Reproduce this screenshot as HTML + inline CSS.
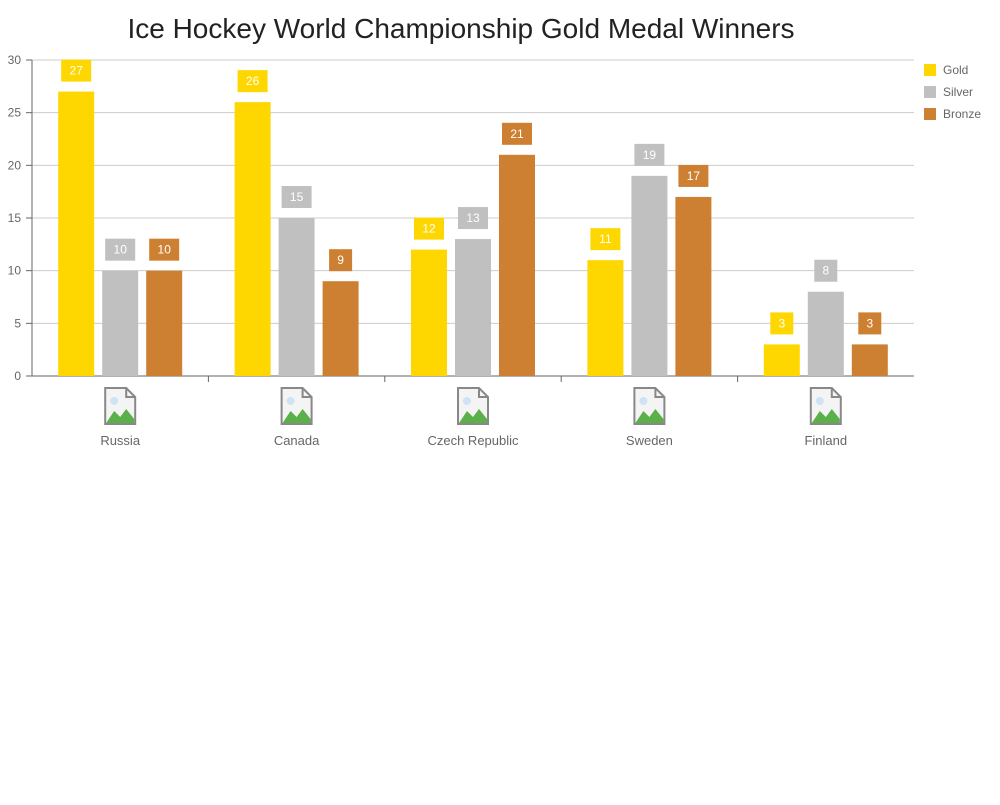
<!DOCTYPE html>
<html><head><meta charset="utf-8"><style>
body{margin:0;background:#fff;font-family:"Liberation Sans",sans-serif}
svg text{font-family:"Liberation Sans",sans-serif}
</style></head><body>
<svg id="chart" width="1000" height="800" xmlns="http://www.w3.org/2000/svg">
<text x="461" y="38" text-anchor="middle" font-size="28" fill="#222">Ice Hockey World Championship Gold Medal Winners</text>
<g id="grid"></g><g id="bars"></g><g id="xaxis"></g>
<g>
<rect x="924" y="64" width="12" height="12" fill="#FFD700"/>
<text x="943" y="74" font-size="12" fill="#666">Gold</text>
<rect x="924" y="86" width="12" height="12" fill="#C0C0C0"/>
<text x="943" y="96" font-size="12" fill="#666">Silver</text>
<rect x="924" y="108" width="12" height="12" fill="#CD7F32"/>
<text x="943" y="118" font-size="12" fill="#666">Bronze</text>
</g>
</svg>
<script>
const categories=["Russia","Canada","Czech Republic","Sweden","Finland"];
const gold=[27,26,12,11,3];
const silver=[10,15,13,19,8];
const bronze=[10,9,21,17,3];
const yTicks=[0,5,10,15,20,25,30];
const NS="http://www.w3.org/2000/svg";
const L=32,R=914,T=60,B=376,yMax=30;
const y=v=>B-(B-T)*v/yMax;
const gw=(R-L)/categories.length;
const gx=i=>L+gw*(i+0.5);
function mk(tag,attrs,parent,txt){const e=document.createElementNS(NS,tag);for(const k in attrs)e.setAttribute(k,attrs[k]);if(txt!==undefined)e.textContent=txt;parent.appendChild(e);return e;}
const grid=document.getElementById('grid'),bars=document.getElementById('bars'),xa=document.getElementById('xaxis');
yTicks.forEach(t=>{
  const l=mk('line',{x1:L,x2:R,y1:y(t),y2:y(t),stroke:t===0?'#666':'#ccc'},grid);
  
  
  mk('line',{x1:26,x2:L,y1:y(t),y2:y(t),stroke:'#666'},grid);
  const tx=mk('text',{x:21,y:y(t)+4,'text-anchor':'end','font-size':12,fill:'#666'},grid,t);
  
  
});
mk('line',{x1:L,x2:L,y1:T,y2:B,stroke:'#666'},grid);
const series=[[gold,'#FFD700','gold'],[silver,'#C0C0C0','silver'],[bronze,'#CD7F32','bronze']];
categories.forEach((c,i)=>{
  series.forEach((s,j)=>{
    const v=s[0][i];const cx=gx(i)+(j-1)*44;
    const r=mk('rect',{x:cx-18,y:y(v),width:36,height:B-y(v),fill:s[1]},bars);
    
    
    const w=String(v).length>1?30:23;
    const lb=mk('rect',{x:cx-w/2,y:y(v)-32,width:w,height:22,fill:s[1]},bars);
    
    
    const lt=mk('text',{x:cx,y:y(v)-17,'text-anchor':'middle','font-size':12,fill:'#fff'},bars,v);
    
    
  });
  if(i>0){mk('line',{x1:L+gw*i,x2:L+gw*i,y1:B,y2:B+6,stroke:'#666'},xa);}
  const g=mk('g',{transform:`translate(${gx(i)-18},387)`},xa);
  
  
  mk('path',{d:'M3 1 H24 L33 10 V37 H3 Z',fill:'#f4f4f4',stroke:'#888','stroke-width':2},g);
  mk('path',{d:'M24 1 V10 H33',fill:'none',stroke:'#888','stroke-width':2},g);
  mk('path',{d:'M4 36 L12 24 L18 30 L24 22 L32 32 V36 Z',fill:'#5bb04a'},g);
  mk('circle',{cx:12,cy:14,r:4,fill:'#cfe3f5'},g);
  const ct=mk('text',{x:gx(i),y:445,'text-anchor':'middle','font-size':13,fill:'#666'},xa,c);
  
  
});
</script>
</body></html>
